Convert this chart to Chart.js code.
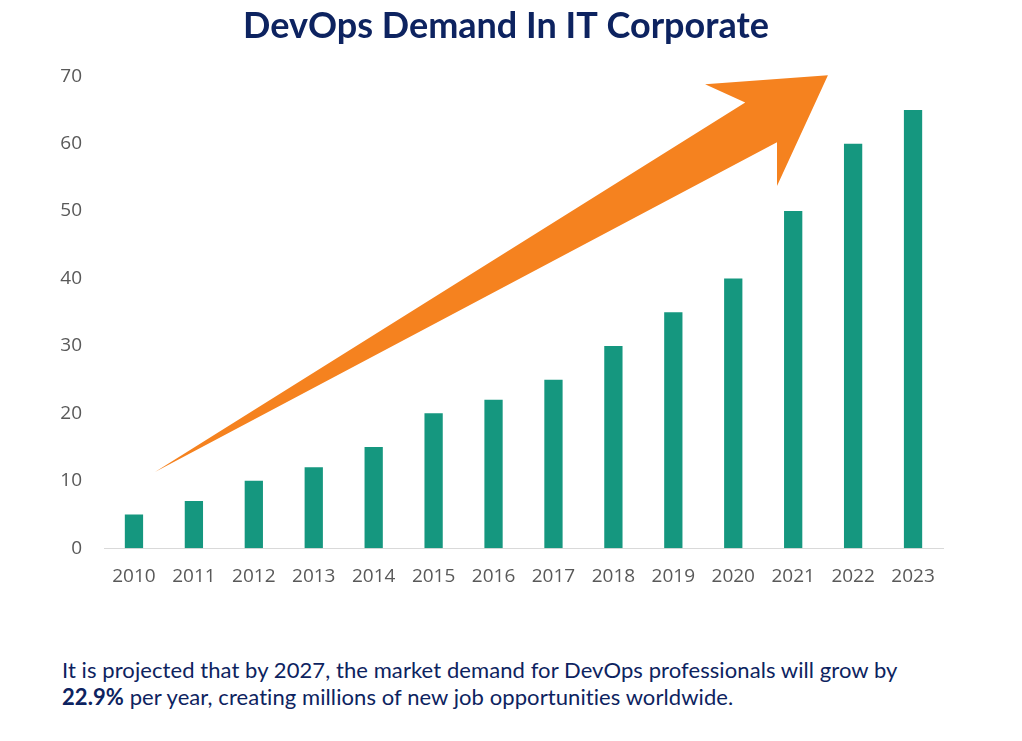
<!DOCTYPE html>
<html>
<head>
<meta charset="utf-8">
<script src="https://cdn.jsdelivr.net/npm/chart.js@4.4.1/dist/chart.umd.min.js"></script>
<style>
  html, body { margin: 0; padding: 0; background: #ffffff; }
  #wrap { position: absolute; left: 0; top: 0; width: 1022px; height: 620px; }
  #note { position: absolute; left: 62px; top: 656px; width: 950px;
          font-family: "Lato", "Open Sans", sans-serif; font-size: 22px; line-height: 27px;
          color: #0d2360; white-space: nowrap; letter-spacing: 0.08px; }
  #note b { font-weight: 700; }
</style>
</head>
<body>
<div id="wrap"><canvas id="c" width="1022" height="620"></canvas></div>
<div id="note">It is projected that by 2027, the market demand for DevOps professionals will grow by<br><b>22.9%</b> per year, creating millions of new job opportunities worldwide.</div>
<script>
const chartTitle = "DevOps Demand In IT Corporate";
const years = ["2010","2011","2012","2013","2014","2015","2016","2017","2018","2019","2020","2021","2022","2023"];
const demand = [5, 7, 10, 12, 15, 20, 22, 25, 30, 35, 40, 50, 60, 65];
const yTicks = [0, 10, 20, 30, 40, 50, 60, 70];
// decorative trend arrow outline, in data units (category index, value)
const arrowX = [0.35, 10.2, 9.53, 11.58, 10.73, 10.73];
const arrowY = [11.3, 66.1, 68.8, 70.15, 53.7, 60.2];

const arrowPlugin = {
  id: 'trendArrow',
  afterDatasetsDraw(chart) {
    const xs = chart.scales.x, ys = chart.scales.y, ctx = chart.ctx;
    ctx.save();
    ctx.beginPath();
    arrowX.forEach((v, i) => {
      const px = xs.getPixelForValue(v), py = ys.getPixelForValue(arrowY[i]);
      if (i === 0) ctx.moveTo(px, py); else ctx.lineTo(px, py);
    });
    ctx.closePath();
    ctx.fillStyle = '#f5821f';
    ctx.fill();
    ctx.restore();
  }
};

new Chart(document.getElementById('c'), {
  type: 'bar',
  data: {
    labels: years,
    datasets: [{
      data: demand,
      backgroundColor: '#15977f',
      borderWidth: 0,
      barPercentage: 0.305,
      categoryPercentage: 1.0
    }]
  },
  options: {
    responsive: false,
    animation: false,
    layout: { padding: { left: 0, right: 10, top: 0, bottom: 15 } },
    plugins: {
      legend: { display: false },
      tooltip: { enabled: false },
      title: {
        display: true,
        text: chartTitle,
        color: '#0d2360',
        font: { family: 'Lato', size: 36, weight: 'bold' },
        padding: { top: 5, bottom: 28 }
      }
    },
    scales: {
      x: {
        grid: { display: false, drawTicks: false },
        border: { display: true, color: '#d9d9d9', width: 1 },
        ticks: { color: '#595959', font: { family: 'Open Sans', size: 19 }, padding: 17, maxRotation: 0 }
      },
      y: {
        min: 0, max: 70,
        afterFit(scale) { scale.width = 104; },
        afterBuildTicks(scale) { scale.ticks = yTicks.map(v => ({ value: v })); },
        grid: { display: false, drawTicks: false },
        border: { display: false },
        ticks: { color: '#595959', font: { family: 'Open Sans', size: 19 }, padding: 22 }
      },
      yRight: {
        position: 'right',
        min: 0, max: 70,
        afterFit(scale) { scale.width = 69; },
        grid: { display: false, drawTicks: false },
        border: { display: false },
        ticks: { display: false }
      }
    }
  },
  plugins: [arrowPlugin]
});
</script>
</body>
</html>
